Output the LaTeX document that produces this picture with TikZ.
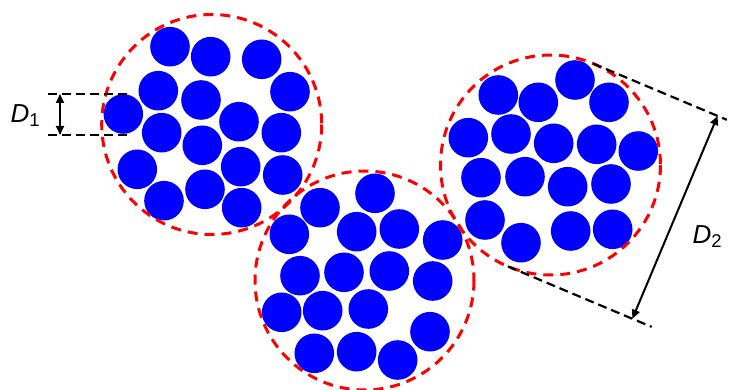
\documentclass[tikz,border=0pt]{standalone}
\usepackage{fontspec}
\setmainfont{Liberation Sans}
\usetikzlibrary{arrows.meta}
\definecolor{ballblue}{RGB}{0,0,255}
\definecolor{ringred}{RGB}{255,0,0}
\tikzset{
  ball/.style={fill=ballblue},
  ring/.style={draw=ringred, line width=3pt, dash pattern=on 10pt off 7pt},
  guide/.style={draw=black, line width=2.2pt, dash pattern=on 9pt off 5pt},
  dimarrow/.style={draw=black, line width=2pt, {Triangle[length=9pt,width=8pt]}-{Triangle[length=9pt,width=8pt]}},
  dimlabel/.style={anchor=base west, inner sep=0pt}
}
\newcommand{\dimtext}[1]{{\fontsize{26}{26}\selectfont\itshape D}\raisebox{-4pt}{\fontsize{18.5}{18.5}\selectfont #1}}
\begin{document}
\begin{tikzpicture}[x=1pt,y=-1pt]
\useasboundingbox (0,0) rectangle (734,390);
\def\br{19.8}
% cluster 1
\foreach \x/\y in {170/46.7, 210.7/56.7, 261.7/59.3, 158.3/90.7, 290/91.7, 201/100,
  123.3/114, 239/121.7, 161.7/132.7, 281.3/132.7, 202.3/145.3, 137.3/169.3,
  240.7/166.7, 282.7/175, 164/200.7, 205/189.3, 241.7/207.7}
  \fill[ball] (\x,\y) circle[radius=\br];
% cluster 2
\foreach \x/\y in {375/193.3, 320/207.7, 289.3/234.3, 356.7/231.7, 399.3/229, 442.7/240,
  300/275.7, 344/272.3, 389.3/271, 432.7/281, 281.7/312.3, 322.7/310.7, 368.3/309,
  430/331.7, 314.3/353.3, 356.7/351.7, 397.7/360}
  \fill[ball] (\x,\y) circle[radius=\br];
% cluster 3
\foreach \x/\y in {575/80, 498.3/95, 538.3/102.3, 609/102.3, 468.3/137.7, 511/134,
  553.7/143.3, 596.7/144.3, 638.3/151, 481/177.7, 525/176.7, 567.7/186.7, 611/184,
  485/220, 521/242.7, 570.7/231, 612.7/229.3}
  \fill[ball] (\x,\y) circle[radius=\br];
% dashed rings
\coordinate (c1) at (211.7,124.5);
\coordinate (c2) at (364.5,280.5);
\coordinate (c3) at (550.5,165);
\draw[ring] (c1) circle[radius=110];
\draw[ring] (c2) circle[radius=109.5];
\draw[ring] (c3) circle[radius=110];
% D1 dimension
\coordinate (d1a) at (48,94);
\coordinate (d1b) at (130,94);
\coordinate (d1c) at (48,135);
\coordinate (d1d) at (130,135);
\coordinate (d1t) at (60,94);
\coordinate (d1u) at (60,135);
\draw[guide] (d1a) -- (d1b);
\draw[guide] (d1c) -- (d1d);
\draw[dimarrow] (d1t) -- (d1u);
\node[dimlabel] (lab1) at (10.5,122.7) {\dimtext{1}};
% D2 dimension
\coordinate (t1) at (593.1,63.6);
\coordinate (t2) at (726.8,119.8);
\coordinate (b1) at (507.9,266.4);
\coordinate (b2) at (651.7,326.9);
\coordinate (a1) at (717.6,115.9);
\coordinate (a2) at (632.4,318.7);
\draw[guide] (t1) -- (t2);
\draw[guide] (b1) -- (b2);
\draw[dimarrow] (a1) -- (a2);
\node[dimlabel] (lab2) at (692.5,244) {\dimtext{2}};
\end{tikzpicture}
\end{document}
